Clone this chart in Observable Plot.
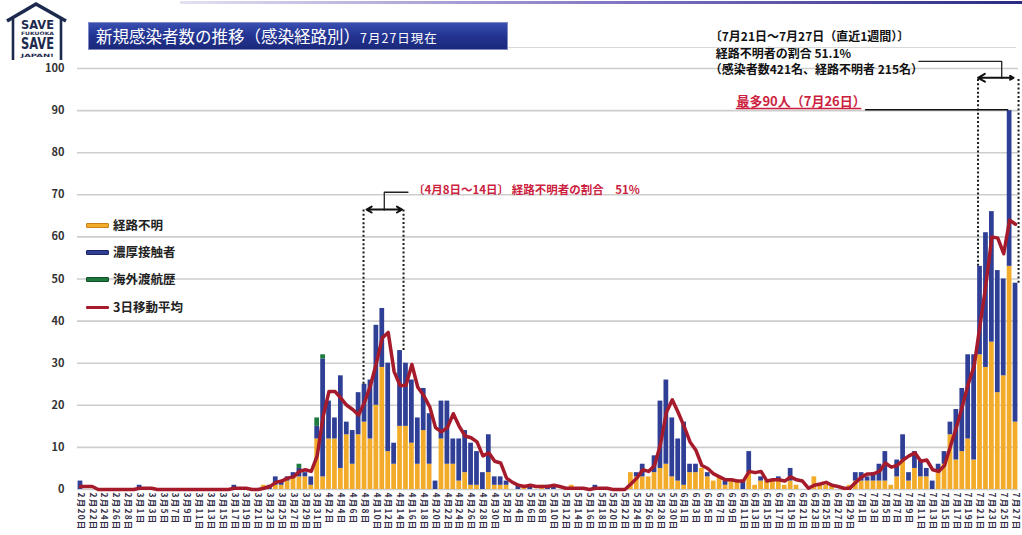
<!DOCTYPE html>
<html lang="ja"><head><meta charset="utf-8">
<script src="https://cdn.jsdelivr.net/npm/d3@7"></script>
<script src="https://cdn.jsdelivr.net/npm/@observablehq/plot@0.6"></script>
<style>
html,body{margin:0;padding:0;background:#fff;}
#wrap{position:relative;width:1022px;height:535px;overflow:hidden;font-family:"Noto Sans CJK JP","Noto Sans",sans-serif;}
#chart{position:absolute;left:0;top:0;}
#topline{position:absolute;left:180px;top:1px;width:842px;height:3px;background:linear-gradient(90deg,#e4e0f2,#7a70c0 55%,#2b2a82);}
#subline{position:absolute;left:508px;top:47px;width:508px;height:1px;background:#d8d8d8;}
#banner{position:absolute;left:88px;top:22px;width:420px;height:28px;background:linear-gradient(180deg,#3b51b4,#223391 50%,#1b2878);box-shadow:inset 0 0 0 1px #7f8ac4;color:#fff;white-space:nowrap;}
#banner .main{position:absolute;left:8px;top:1px;font-size:16.5px;line-height:26px;}
#banner .sub{font-size:12.5px;letter-spacing:1px;}
.item{position:absolute;left:86px;height:14px;white-space:nowrap;font-size:12.5px;font-weight:bold;color:#222;line-height:14px;}
.sw{position:absolute;left:0;top:4.5px;width:23px;height:5px;border-radius:1px;box-sizing:border-box;}
.item span{position:absolute;left:27px;top:0;}
#logo{position:absolute;left:0;top:0;}
svg [aria-label^="x-axis"] text{font-size:8.5px;font-weight:bold;letter-spacing:1.2px;fill:#35304a;}
svg [aria-label^="y-axis"] text{font-size:11px;font-weight:bold;fill:#333;}
</style></head>
<body>
<div id="wrap">
  <div id="chart"></div>
  <div id="topline"></div>
  <div id="subline"></div>
  <svg id="logo" width="74" height="64">
    <path d="M7 21 L36 4 L66 21" fill="none" stroke="#1d2a4e" stroke-width="3.6" stroke-linejoin="miter"/>
    <line x1="13" y1="19" x2="13" y2="60" stroke="#1d2a4e" stroke-width="2.6"/>
    <line x1="61" y1="19" x2="61" y2="60" stroke="#1d2a4e" stroke-width="2.6"/>
    <text x="21" y="29" font-family="DejaVu Sans" font-weight="bold" font-size="13" fill="#1d2a4e" textLength="33" lengthAdjust="spacingAndGlyphs">SAVE</text>
    <text x="21" y="35" font-family="DejaVu Sans" font-weight="bold" font-size="4.6" fill="#1d2a4e" textLength="33" lengthAdjust="spacingAndGlyphs">FUKUOKA</text>
    <text x="21" y="49" font-family="DejaVu Sans" font-weight="bold" font-size="15" fill="#1d2a4e" textLength="33" lengthAdjust="spacingAndGlyphs">SAVE</text>
    <text x="21" y="57" font-family="DejaVu Sans" font-weight="bold" font-size="4.6" fill="#1d2a4e" textLength="33" lengthAdjust="spacingAndGlyphs">JAPAN!</text>
  </svg>
  <div id="banner"><div class="main">新規感染者数の推移（感染経路別）<span class="sub">7月27日現在</span></div></div>
  <div class="item" style="top:218px"><div class="sw" style="background:#f2ac2a;border:1px solid #c9801c"></div><span>経路不明</span></div>
  <div class="item" style="top:245px"><div class="sw" style="background:#2f3f95;border:1px solid #1c2560"></div><span>濃厚接触者</span></div>
  <div class="item" style="top:272px"><div class="sw" style="background:#1f7a40;border:1px solid #0f4d25"></div><span>海外渡航歴</span></div>
  <div class="item" style="top:300px"><div class="sw" style="background:#a61b2c;height:3px;top:5.5px"></div><span>3日移動平均</span></div>
</div>
<script>
// Calendar: 2月20日 .. 7月27日 (159 days)
const monthSpans = [[2, 20, 29], [3, 1, 31], [4, 1, 30], [5, 1, 31], [6, 1, 30], [7, 1, 27]];
const dates = monthSpans.flatMap(([m, a, b]) => d3.range(a, b + 1).map(d => `${m}月${d}日`));
const tickDates = dates.filter((d, i) => i % 2 === 0);

const types = ["経路不明", "濃厚接触者", "海外渡航歴"];
const typeColors = ["#f2ac2a", "#2f3f95", "#1f7a40"];

// 経路不明 (unknown route), one value per day, rows of 10
const unknown = [
  0,0,0,0,0,0,0,0,0,0,
  0,0,0,0,0,0,0,0,0,0,
  0,0,0,0,0,0,0,0,0,0,
  0,1,0,1,1,2,3,3,3,1,
  12,3,12,12,5,13,6,13,16,12,
  20,29,9,6,15,15,11,6,14,6,
  0,12,6,6,2,4,1,1,0,4,
  1,1,1,0,0,1,0,0,1,0,
  0,0,0,1,0,0,0,0,0,0,
  0,0,0,4,3,3,3,4,5,6,
  3,2,1,4,4,5,3,2,3,1,
  2,2,0,4,1,2,2,2,2,1,
  2,1,0,0,3,1,1,1,0,0,
  1,2,2,2,2,2,2,1,3,7,
  2,5,3,3,0,4,6,13,7,9,
  12,7,32,29,35,23,27,53,16
];
// 濃厚接触者 (close contacts)
const contact = [
  2,0,0,0,0,0,0,0,0,0,
  1,0,0,0,0,0,0,0,0,0,
  0,0,0,0,0,0,1,0,0,0,
  0,0,1,2,1,1,1,2,1,2,
  3,28,9,5,22,3,8,10,9,14,
  19,14,21,5,18,15,15,11,10,12,
  2,9,15,6,10,10,10,8,4,9,
  2,2,1,0,1,0,1,0,0,1,
  1,0,0,0,0,0,0,1,0,0,
  0,0,0,0,1,3,0,4,16,20,
  14,10,15,2,2,0,1,0,0,1,
  0,0,2,5,0,1,0,0,1,0,
  3,0,0,0,0,0,0,0,0,0,
  0,2,2,1,2,4,7,0,4,6,
  2,4,4,2,2,2,3,3,12,15,
  20,25,21,32,31,29,23,37,33
];
// 海外渡航歴 (overseas travel)
const overseas = [
  0,0,0,0,0,0,0,0,0,0,
  0,0,0,0,0,0,0,0,0,0,
  0,0,0,0,0,0,0,0,0,0,
  0,0,0,0,0,0,0,1,0,0,
  2,1,0,0,0,0,0,0,0,0,
  0,0,0,0,0,0,0,0,0,0,
  0,0,0,0,0,0,0,0,0,0,
  0,0,0,0,0,0,0,0,0,0,
  0,0,0,0,0,0,0,0,0,0,
  0,0,0,0,0,0,0,0,0,0,
  0,0,0,0,0,0,0,0,0,0,
  0,0,0,0,0,0,0,0,0,0,
  0,0,0,0,0,0,0,0,0,0,
  0,0,0,0,0,0,0,0,0,0,
  0,0,0,0,0,0,0,0,0,0,
  0,0,0,0,0,0,0,0,0
];
// 3日移動平均 (3-day moving average line, as read)
const movingAvg = [
  0.7,0.7,0.7,0,0,0,0,0,0,0,
  0.3,0.3,0.3,0,0,0,0,0,0,0,
  0,0,0,0,0,0,0.3,0.3,0.3,0,
  0,0.3,0.7,1.7,2.0,2.7,3.0,4.3,4.7,4.3,
  8.0,17.3,23.3,23.3,21.7,20.0,19.0,17.7,20.7,24.7,
  30.0,36.0,37.3,28.0,24.7,24.7,29.7,24.3,22.3,19.7,
  14.7,13.7,14.7,18.0,15.0,12.7,12.3,11.3,8.0,8.7,
  6.7,6.3,2.7,1.7,1.0,0.7,1.0,0.7,0.7,0.7,
  1.0,0.7,0.3,0.3,0.3,0.3,0,0.3,0.3,0.3,
  0,0,0,1.3,2.7,4.7,4.3,5.7,10.7,18.3,
  21.3,18.3,15.0,11.3,9.3,5.7,5.0,3.7,3.0,2.3,
  2.3,2.0,2.0,4.3,4.0,4.3,2.0,2.3,2.3,2.0,
  3.0,2.3,2.0,0.3,1.0,1.3,1.7,1.0,0.7,0.3,
  0.3,1.7,3.0,3.7,3.7,4.3,6.3,5.3,5.7,7.0,
  8.0,8.7,6.7,7.0,4.7,4.3,5.7,10.3,14.7,19.7,
  25.0,29.3,39.0,48.7,60.0,59.7,56.0,64.0,63.0
];
const yTicks = [0,10,20,30,40,50,60,70,80,90,100];

// annotation texts
const noteApril = "〔4月8日～14日〕 経路不明者の割合　51%";
const noteWeek = ["〔7月21日～7月27日（直近1週間）〕", "経路不明者の割合 51.1%", "（感染者数421名、経路不明者 215名）"];
const noteMax = "最多90人（7月26日）";

const rows = dates.flatMap((d, i) => [
  {date: d, type: types[0], value: unknown[i]},
  {date: d, type: types[1], value: contact[i]},
  {date: d, type: types[2], value: overseas[i]}
]);
const maRows = dates.map((d, i) => ({date: d, value: movingAvg[i]}));
const totalOf = d => { const i = dates.indexOf(d); return unknown[i] + contact[i] + overseas[i]; };

const red = "#cc1f3f";
const dotted = {stroke: "#1a1a1a", strokeWidth: 2, strokeDasharray: "2,2.2"};

const chart = Plot.plot({
  width: 1022, height: 535,
  marginLeft: 77, marginRight: 4, marginTop: 68, marginBottom: 46,
  style: {fontFamily: '"Noto Sans CJK JP", sans-serif', fontSize: "11px", color: "#333", background: "transparent", overflow: "visible"},
  x: {type: "band", domain: dates, paddingInner: 0.2, paddingOuter: 0.1, align: 0.5, label: null,
      ticks: tickDates, tickFormat: d => (tickDates.includes(d) ? d : ""), tickRotate: 90, tickSize: 0, tickPadding: 3},
  y: {domain: [0, 100], ticks: yTicks, label: null, tickSize: 0, tickPadding: 13},
  color: {domain: types, range: typeColors},
  marks: [
    Plot.ruleY(yTicks, {stroke: "#cdcdcd", strokeWidth: 1.6}),
    Plot.barY(rows, {x: "date", y: "value", fill: "type"}),
    Plot.lineY(maRows, {x: "date", y: "value", stroke: "#a61b2c", strokeWidth: 3.5, strokeLinejoin: "round"}),

    // April bracket
    Plot.ruleX([{x: "4月8日", y1: totalOf("4月8日"), y2: 66.5}], {x: "x", y1: "y1", y2: "y2", dx: -1, ...dotted}),
    Plot.ruleX([{x: "4月14日", y1: totalOf("4月14日"), y2: 66.5}], {x: "x", y1: "y1", y2: "y2", dx: 3.5, ...dotted}),
    Plot.arrow([{a: "4月11日", b: "4月8日"}, {a: "4月11日", b: "4月14日"}], {x1: "a", x2: "b", y1: () => 66.5, y2: () => 66.5, dx: 2, stroke: "#111", strokeWidth: 2, headLength: 6}),
    Plot.line([{x: "4月11日", y: 66.5}, {x: "4月11日", y: 70.6}, {x: "4月15日", y: 70.6}], {x: "x", y: "y", dx: 2, stroke: "#222", strokeWidth: 1.3}),
    Plot.text([{x: "4月16日", y: 71, t: noteApril}], {x: "x", y: "y", text: "t", textAnchor: "start", dx: 1, fill: red, fontSize: 11.5, fontWeight: "bold"}),

    // last-week bracket
    Plot.ruleX([{x: "7月21日", y1: totalOf("7月21日"), y2: 97.8}], {x: "x", y1: "y1", y2: "y2", dx: -2, ...dotted}),
    Plot.ruleX([{x: "7月27日", y1: totalOf("7月27日"), y2: 97.8}], {x: "x", y1: "y1", y2: "y2", dx: 3, ...dotted}),
    Plot.arrow([{a: "7月25日", b: "7月21日"}, {a: "7月25日", b: "7月27日"}], {x1: "a", x2: "b", y1: () => 97.8, y2: () => 97.8, dx: -2, stroke: "#111", strokeWidth: 2, headLength: 6}),
    Plot.line([{x: "7月25日", y: 97.8}, {x: "7月25日", y: 101.7}, {x: "7月11日", y: 101.7}], {x: "x", y: "y", dx: -2, stroke: "#222", strokeWidth: 1.3}),
    Plot.text([{x: "6月5日", y: 107.4, t: noteWeek[0]}, {x: "6月6日", y: 103.5, t: noteWeek[1]}, {x: "6月5日", y: 99.5, t: noteWeek[2]}],
      {x: "x", y: "y", text: "t", textAnchor: "start", dx: 2, fill: "#111", fontSize: 12, fontWeight: "bold"}),

    // maximum note
    Plot.text([{x: "6月10日", y: 92.2, t: noteMax}], {x: "x", y: "y", text: "t", textAnchor: "start", dx: -1, fill: red, fontSize: 13, fontWeight: "bold"}),
    Plot.line([{x: "6月10日", y: 90.5}, {x: "7月1日", y: 90.5}], {x: "x", y: "y", dx: -1, stroke: red, strokeWidth: 1.5}),
    Plot.line([{x: "7月2日", y: 90.2}, {x: "7月26日", y: 90.2}], {x: "x", y: "y", dx: -2, stroke: "#111", strokeWidth: 1.5})
  ]
});
document.getElementById("chart").appendChild(chart);
</script>
</body></html>
